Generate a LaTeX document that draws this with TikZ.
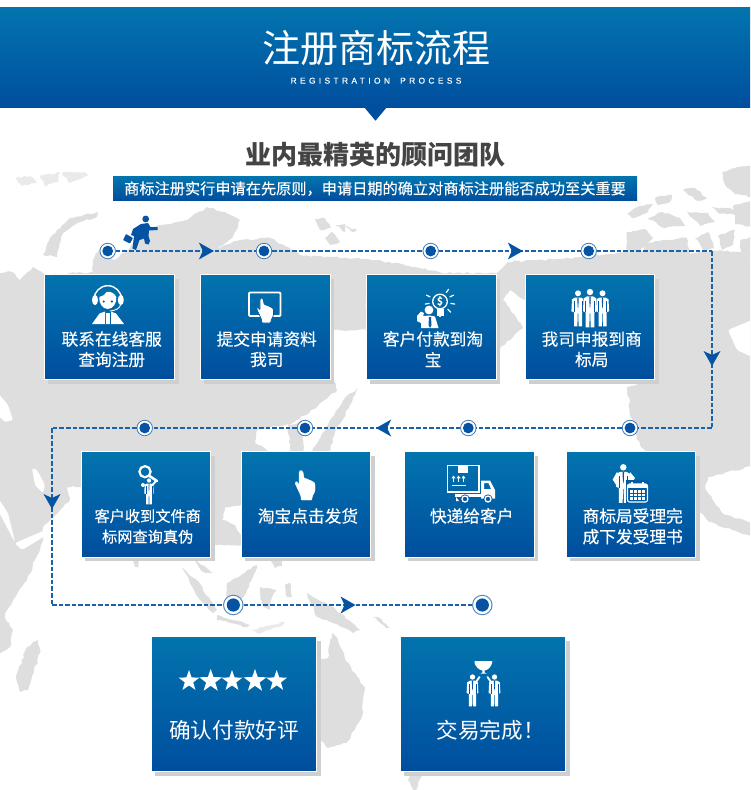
\documentclass[tikz,border=0pt]{standalone}
\usepackage{fontspec}
\usetikzlibrary{shapes.geometric,arrows.meta,decorations.markings,decorations.pathmorphing,calc}
\newfontfamily\cjk{Noto Sans CJK SC}
\newfontfamily\cjkm[FakeBold=0.25]{Noto Sans CJK SC}
\newfontfamily\subfont[LetterSpace=40,WordSpace=1.8,FakeBold=0.3]{Liberation Sans}
\definecolor{gtop}{HTML}{0274AE}
\definecolor{gbot}{HTML}{004E9E}
\definecolor{mapg}{HTML}{DEDEDE}
\definecolor{mapl}{HTML}{EAEAEA}
\definecolor{shd}{HTML}{CFCFCF}
\definecolor{flowc}{HTML}{1B62AC}
\definecolor{dotc}{HTML}{0653A3}
\definecolor{inkd}{HTML}{444444}
\newcommand{\fs}[1]{\fontsize{#1}{#1}\selectfont}
\tikzset{
  x=1pt,y=-1pt,
  land/.style={fill=mapg,decorate,decoration={random steps,segment length=3.5pt,amplitude=1pt}},
  isle/.style={fill=mapl,decorate,decoration={random steps,segment length=3pt,amplitude=1pt}},
  sea/.style={fill=white,rounded corners=1.5pt},
  stepbox/.style={rectangle,draw=white,line width=.7pt,top color=gtop,bottom color=gbot,inner sep=0pt,anchor=north west},
  boxlabel/.style={text=white,font=\cjkm\fs{16.7},align=center,inner sep=0pt},
  smalllabel/.style={text=white,font=\cjkm\fs{15.2},align=center,inner sep=0pt},
  biglabel/.style={text=white,font=\cjk\fs{21.6},align=center,inner sep=0pt},
  dotsmall/.style={circle,draw=flowc!85,line width=.8pt,fill=white,minimum size=15.5pt,inner sep=0pt,
    path picture={\fill[dotc] (path picture bounding box.center) circle (5.4pt);}},
  dotbig/.style={circle,draw=flowc!75,line width=1pt,fill=white,minimum size=19.5pt,inner sep=0pt,
    path picture={\fill[dotc] (path picture bounding box.center) circle (6.6pt);}},
  flow/.style={draw=flowc,line width=1.8pt,dash pattern=on 4.6pt off 2pt},
  tip/.style={decoration={markings,mark=at position #1 with {\arrow[line width=0pt,dotc,solid]{Stealth[length=15pt,width=17pt,inset=4pt]}}},postaction={decorate}},
  wf/.style={fill=white},
}
% suit man: head centre at (#1,#2), scale #3
\newcommand{\suitman}[3]{\begin{scope}[shift={(#1,#2)},scale=#3]
  \fill[white] (0,0) circle (3);
  \fill[white] (-3,4.2) -- (3,4.2) -- (6,6) -- (6.6,18) -- (4,19) -- (4,33) -- (.6,33) -- (.3,20) -- (-.3,20) -- (-.6,33) -- (-4,33) -- (-4,19) -- (-6.6,18) -- (-6,6) -- cycle;
  \fill[dotc] (-.7,4.2) -- (.7,4.2) -- (.4,13) -- (0,15) -- (-.4,13) -- cycle;
  \draw[dotc,line width=.5pt] (-4,8) -- (-4,19) (4,8) -- (4,19);
\end{scope}}
% pointing hand: top-left of a 20x30 frame at (#2,#3), scale #4
\newcommand{\pointhand}[4][]{\begin{scope}[shift={(#2,#3)},scale=#4]
  \filldraw[white,#1,rounded corners=1pt,line join=round] (4,2) -- (6,0) -- (8,2) -- (9,8.5) -- (12,8.5) -- (13,10) -- (15.5,10) -- (16.5,11.5) -- (19,12) -- (20,14) -- (20,21) -- (17,27) -- (17,30) -- (6,30) -- (6,26) -- (0,13) -- (1.5,11) -- (4,15) -- cycle;
\end{scope}}
\begin{document}
\begin{tikzpicture}
\pgfmathsetseed{7}
\useasboundingbox (0,0) rectangle (750,790);
\fill[white] (0,0) rectangle (750,790);
%% world map
\begin{scope}
\clip (0,0) rectangle (750,790);
\fill[land] (-6,273) -- (12,272) -- (20,280) -- (33,267) -- (45,275) -- (93,272) -- (93,260) -- (100,248) -- (113,260) -- (127,251) -- (150,227) -- (173,223) -- (190,218) -- (207,207) -- (225,212) -- (240,220) -- (233,237) -- (217,248) -- (240,240) -- (270,238) -- (300,255) -- (333,257) -- (375,260) -- (415,267) -- (442,273) -- (497,273) -- (508,262) -- (542,260) -- (582,257) -- (625,252) -- (660,252) -- (690,254) -- (720,250) -- (756,255) -- (756,465) -- (708,477) -- (705,487) -- (722,513) -- (756,525) -- (756,537) -- (722,527) -- (707,520) -- (640,445) -- (632,423) -- (627,387) -- (655,380) -- (655,340) -- (640,300) -- (525,300) -- (510,290) -- (503,300) -- (515,315) -- (523,328) -- (510,340) -- (497,350) -- (490,350) -- (490,300) -- (366,300) -- (366,330) -- (333,330) -- (333,377) -- (337,390) -- (317,407) -- (293,423) -- (257,430) -- (255,443) -- (267,450) -- (255,500) -- (241,505) -- (225,507) -- (222,520) -- (235,525) -- (241,535) -- (245,545) -- (205,545) -- (80,487) -- (67,487) -- (70,500) -- (60,510) -- (43,527) -- (43,533) -- (43,540) -- (27,580) -- (7,610) -- (5,618) -- (13,630) -- (10,647) -- (-6,658) -- cycle;
% seas cut from the land
\fill[sea] (-2,498) -- (8,513) -- (15,542) -- (12,537) -- (-2,510) -- cycle;
\fill[sea] (15,543) -- (43,531) -- (45,536) -- (22,550) -- cycle;
\fill[sea] (32,468) -- (37,470) -- (45,485) -- (43,493) -- (35,485) -- cycle;
\fill[sea] (-2,393) -- (8,405) -- (13,420) -- (5,422) -- (-2,415) -- cycle;
\fill[sea] (728,330) -- (752,320) -- (752,357) -- (737,350) -- cycle;
% Korea and Japan
\fill[land] (288,424) -- (303,424) -- (303,452) -- (290,452) -- cycle;
\fill[land] (312,452) -- (330,420) -- (345,398) -- (358,388) -- (352,402) -- (335,432) -- (330,452) -- cycle;
% Novaya Zemlya and northern islands
\fill[land] (98,212) -- (70,218) -- (50,238) -- (43,255) -- (57,257) -- (63,233) -- (80,222) -- (97,217) -- cycle;
\fill[isle] (15,178) -- (30,176) -- (37,183) -- (22,186) -- cycle;
\fill[isle] (40,176) -- (60,172) -- (58,182) -- (45,186) -- cycle;
\fill[isle] (62,173) -- (85,172) -- (88,176) -- (70,183) -- cycle;
\fill[land] (315,219) -- (325,218) -- (331,228) -- (320,230) -- cycle;
\fill[land] (335,225) -- (345,224) -- (345,232) -- cycle;
\fill[land] (345,226) -- (357,230) -- (352,232) -- cycle;
\fill[land] (325,238) -- (332,232) -- (340,242) -- (330,245) -- cycle;
% arctic Canada and Greenland
\fill[land] (722,172) -- (738,167) -- (756,166) -- (756,198) -- (735,194) -- (725,185) -- cycle;
\fill[land] (683,190) -- (695,188) -- (707,198) -- (698,201) -- cycle;
\fill[land] (655,198) -- (672,195) -- (670,202) -- (658,205) -- cycle;
\fill[land] (627,214) -- (640,206) -- (653,204) -- (648,212) -- (632,218) -- cycle;
\fill[land] (648,218) -- (662,212) -- (680,218) -- (685,226) -- (665,228) -- cycle;
\fill[land] (687,212) -- (708,213) -- (715,222) -- (700,226) -- cycle;
\fill[land] (712,207) -- (735,209) -- (737,214) -- (720,214) -- cycle;
\fill[land] (733,206) -- (756,200) -- (756,228) -- (735,224) -- cycle;
\fill[land] (627,232) -- (645,229) -- (653,238) -- (640,250) -- (627,252) -- cycle;
\fill[land] (645,243) -- (665,240) -- (687,238) -- (690,254) -- (645,254) -- cycle;
\fill[land] (695,238) -- (708,232) -- (714,248) -- (705,252) -- cycle;
\fill[land] (718,236) -- (735,230) -- (733,245) -- (722,250) -- cycle;
\fill[land] (740,240) -- (756,236) -- (756,258) -- (742,256) -- cycle;
% Madagascar
\fill[land] (38,640) -- (40,653) -- (28,690) -- (20,692) -- (16,677) -- (27,647) -- cycle;
% south-east Asia and Australia
\fill[land] (182,568) -- (197,580) -- (217,610) -- (213,613) -- (200,600) -- cycle;
\fill[land] (193,558) -- (213,573) -- (203,572) -- cycle;
\fill[land] (227,583) -- (257,565) -- (253,577) -- (240,603) -- (227,600) -- cycle;
\fill[land] (217,615) -- (250,625) -- (247,627) -- (217,620) -- cycle;
\fill[land] (260,587) -- (277,590) -- (272,597) -- (270,610) -- (262,605) -- cycle;
\fill[isle] (252,630) -- (285,622) -- (282,626) -- (258,634) -- cycle;
\fill[land] (285,585) -- (290,583) -- (292,597) -- (287,597) -- cycle;
\fill[land] (307,593) -- (333,607) -- (360,630) -- (353,633) -- (333,623) -- (317,617) -- cycle;
\fill[land] (267,557) -- (283,557) -- (282,566) -- (275,568) -- cycle;
\fill[land] (373,617) -- (378,617) -- (390,628) -- (386,628) -- cycle;
\fill[land] (133,558) -- (140,558) -- (139,567) -- (135,567) -- cycle;
\fill[land] (315,662) -- (328,658) -- (332,633) -- (338,640) -- (347,662) -- (365,688) -- (362,717) -- (347,743) -- (328,748) -- (318,737) -- (315,720) -- cycle;
\fill[land] (423,772) -- (415,792) -- (408,780) -- (410,772) -- cycle;
\end{scope}

%% header
\shade[top color=gtop,bottom color=gbot] (0,7.5) rectangle (750,107.7);
\fill[gbot] (364,107) -- (387,107) -- (375.5,120.7) -- cycle;
\node[text=white,font=\cjk\fs{38},inner sep=0pt] (title) at (376,48) {注册商标流程};
\node[text=white,font=\subfont\fs{8.4},inner sep=0pt] (subtitle) at (376,80.7) {REGISTRATION PROCESS};
\node[text=inkd,font=\cjk\bfseries\fs{26},inner sep=0pt] (heading) at (375,155) {业内最精英的顾问团队};
\node[rectangle,top color=gtop,bottom color=gbot,minimum width=524pt,minimum height=23.5pt,inner sep=0pt,anchor=north west] (banner) at (113,176.7) {};
\node[text=white,font=\cjkm\fs{15.2},inner sep=0pt] (bannertext) at (375,188.6) {商标注册实行申请在先原则，申请日期的确立对商标注册能否成功至关重要};

%% boxes: shadows first
\foreach \x/\y/\w/\h in {44.3/274/129.7/105,200/274/129.7/105,366/274/129.7/105,525/274/129/105,80.7/451/129.3/105.7,241/451/129/105.7,404.3/451/129.4/105.7,565.7/451/129.3/105.7,151.3/636.3/165/135,400/636.3/165.3/135}
  \fill[shd] (\x+4,\y+4.5) rectangle (\x+\w+4.5,\y+\h+4.5);
\node[stepbox,minimum width=129.7pt,minimum height=105pt] (b1) at (44.3,274) {};
\node[stepbox,minimum width=129.7pt,minimum height=105pt] (b2) at (200,274) {};
\node[stepbox,minimum width=129.7pt,minimum height=105pt] (b3) at (366,274) {};
\node[stepbox,minimum width=129pt,minimum height=105pt] (b4) at (525,274) {};
\node[stepbox,minimum width=129.3pt,minimum height=105.7pt] (b5) at (80.7,451) {};
\node[stepbox,minimum width=129pt,minimum height=105.7pt] (b6) at (241,451) {};
\node[stepbox,minimum width=129.4pt,minimum height=105.7pt] (b7) at (404.3,451) {};
\node[stepbox,minimum width=129.3pt,minimum height=105.7pt] (b8) at (565.7,451) {};
\node[stepbox,minimum width=165pt,minimum height=135pt] (b9) at (151.3,636.3) {};
\node[stepbox,minimum width=165.3pt,minimum height=135pt] (b10) at (400,636.3) {};

%% labels
\node[boxlabel] (l1a) at (111.7,339) {联系在线客服};
\node[boxlabel] (l1b) at (111.7,359.5) {查询注册};
\node[boxlabel] (l2a) at (266.7,339) {提交申请资料};
\node[boxlabel] (l2b) at (266.7,359.5) {我司};
\node[boxlabel] (l3a) at (433,339) {客户付款到淘};
\node[boxlabel] (l3b) at (433,359.5) {宝};
\node[boxlabel] (l4a) at (591.7,339) {我司申报到商};
\node[boxlabel] (l4b) at (591.7,359.5) {标局};
\node[smalllabel] (l5a) at (147.7,516) {客户收到文件商};
\node[smalllabel] (l5b) at (147.7,536.7) {标网查询真伪};
\node[boxlabel] (l6a) at (308,516) {淘宝点击发货};
\node[boxlabel] (l7a) at (471.7,516) {快递给客户};
\node[boxlabel] (l8a) at (632.7,516) {商标局受理完};
\node[boxlabel] (l8b) at (632.7,536.7) {成下发受理书};
\node[biglabel] (l9a) at (234,730) {确认付款好评};
\node[biglabel,anchor=west] (l10a) at (436.5,730) {交易完成！};

%% flow line dots
\node[dotsmall] (c1) at (107.7,251) {};
\node[dotsmall] (c2) at (264,251) {};
\node[dotsmall] (c3) at (430.7,251) {};
\node[dotsmall] (c4) at (588.7,251) {};
\coordinate (k1) at (712,251);
\coordinate (k2) at (712,428);
\node[dotsmall] (c5) at (630,428) {};
\node[dotsmall] (c6) at (468.3,428) {};
\node[dotsmall] (c7) at (305,428) {};
\node[dotsmall] (c8) at (144.7,428) {};
\coordinate (k3) at (52,428);
\coordinate (k4) at (52,605);
\node[dotbig] (c9) at (233.3,605) {};
\node[dotbig] (c10) at (482.3,605) {};
\draw[flow,tip=98pt] (c1) -- (c2);
\draw[flow] (c2) -- (c3);
\draw[flow,tip=84pt] (c3) -- (c4);
\draw[flow] (c4) -- (k1);
\draw[flow,tip=115pt] (k1) -- (k2);
\draw[flow] (k2) -- (c5);
\draw[flow] (c5) -- (c6);
\draw[flow,tip=84pt] (c6) -- (c7);
\draw[flow] (c7) -- (c8);
\draw[flow] (c8) -- (k3);
\draw[flow,tip=81pt] (k3) -- (k4);
\draw[flow] (k4) -- (c9);
\draw[flow,tip=112pt] (c9) -- (c10);

%% runner
\begin{scope}[dotc]
\fill (145.7,219) circle (3.4);
\fill (141,224) -- (148,223) -- (150.5,227) -- (157.7,227) -- (157.7,230) -- (149,230.5) -- (148.5,236) -- (150,241) -- (148.5,244.5) -- (145,243.5) -- (144,238.5) -- (139.5,240) -- (136,250) -- (132.5,248.5) -- (134,236) -- (131,235) -- (133,229) -- cycle;
\fill[rounded corners=.6pt] (126,234) -- (133,238) -- (130,243.5) -- (123,240) -- cycle;
\end{scope}

%% icon 1: agent
\draw[white,line width=1.4pt] (94,299.5) arc (180:360:13.8);
\fill[wf] (95,300) ellipse (3 and 5.2);
\fill[wf] (120.8,300) ellipse (3 and 5.2);
\fill[wf] (99.3,297) .. controls (102.5,296.5) and (105.5,294.5) .. (106.5,292) .. controls (110,291) and (114.5,293) .. (116.3,297) .. controls (117,303) and (113,309) .. (107.8,309) .. controls (102.5,309) and (98.6,303) .. (99.3,297) -- cycle;
\fill[dotc] (103.7,301.5) circle (1.2) (111.9,301.5) circle (1.2);
\draw[white,line width=.9pt] (120.8,304) .. controls (120,309) and (115,310.5) .. (110,311);
\fill[wf] (92,324) -- (99.5,313.5) -- (105,311.5) -- (105,324) -- cycle;
\fill[wf] (124,324) -- (116,313.5) -- (111,311.5) -- (111,324) -- cycle;
\fill[wf] (106.2,313) -- (109.8,313) -- (110,324) -- (106,324) -- cycle;
%% icon 2: tablet
\draw[white,line width=1.9pt,rounded corners=1pt] (249,292.5) rectangle (280.5,316);
\pointhand[draw=dotc,line width=.7pt]{256.5}{297.5}{.85}
%% icon 3: idea
\draw[white,line width=1.3pt] (440,301.5) circle (7.3);
\node[text=white,font=\cjk\bfseries\fs{10.5},inner sep=0pt] (dollar) at (440,301.5) {\$};
\fill[wf] (436.5,309) rectangle (443.5,315.5);
\foreach \a in {-25,10,45,90,135,170,205,-55}
  \draw[white,line width=1.2pt,line cap=round] ($(440,301.5)+(\a:11)$) -- ($(440,301.5)+(\a:15)$);
\fill[gtop!60!gbot] (429,310) circle (5.6);
\fill[wf] (429,310) circle (4.4);
\fill[wf] (417,316) -- (421,311.5) -- (424,313) -- (423,316) -- (430,315.5) -- (435,316.5) -- (438.5,328) -- (421,328) -- (421,323) -- (417,321) -- cycle;
\fill[gtop!45!gbot] (429,317) -- (431,317) -- (431.5,325) -- (430,328) -- (428.5,325) -- cycle;
%% icon 4: three men
\suitman{578}{293.3}{1}
\suitman{602.5}{293.3}{1}
\draw[gtop!55!gbot,line width=1pt] (583.2,299) -- (583.2,327) (596.8,299) -- (596.8,327);
\suitman{590}{292}{1.07}
%% icon 5: magnifier man
\draw[white,line width=2.2pt] (145,471.7) circle (5.6);
\draw[white,line width=2.6pt,line cap=round] (149.5,476) -- (157,481);
\suitman{149}{480.5}{.72}
\draw[white,line width=2pt,line cap=round] (152.5,485) -- (156,481);
\fill[wf] (143,485) circle (2);
%% icon 6: hand
\pointhand{295}{470}{1}
%% icon 7: truck
\draw[white,line width=1.5pt] (447.5,465.5) rectangle (479,492);
\fill[wf] (458,465) rectangle (468,472.5);
\foreach \xa in {453.5,458.5,463.5}{
  \draw[white,line width=1.1pt] (\xa,482) -- (\xa,478);
  \fill[wf] (\xa-2,478.3) -- (\xa+2,478.3) -- (\xa,475.5) -- cycle;
}
\draw[white,line width=1.4pt] (451.5,485.5) -- (466,485.5);
\fill[wf,even odd rule] (481,480.5) -- (490,480.5) -- (495,490) -- (495,498.5) -- (481,498.5) -- cycle (484,483) -- (484,489) -- (491,489) -- (488.5,483) -- cycle;
\fill[wf] (455,493.5) rectangle (481,497);
\fill[wf] (456,497) -- (459,501) -- (456,501) -- cycle;
\foreach \xa in {465,488}{
  \fill[gtop!35!gbot] (\xa,499) circle (4.6);
  \draw[white,line width=1.3pt] (\xa,499) circle (3);
}
%% icon 8: manager and calendar
\fill[wf] (617,472) -- (612.7,479.5) -- (618,488) -- (619,484) -- (616.5,479.5) -- (619,475) -- cycle;
\fill[wf] (630,472) -- (635,478) -- (631,484) -- (628,482) -- cycle;
\suitman{623.3}{467.3}{1.08}
\fill[gtop!35!gbot] (625.5,480) rectangle (649,503.5);
\draw[white,line width=1.1pt,rounded corners=2pt] (627.5,484) rectangle (647.5,502);
\fill[wf] (628,484) rectangle (647,488);
\draw[white,line width=1.6pt] (632,482) -- (632,486) (643,482) -- (643,486);
\foreach \yy in {491.5,495,498.5}\foreach \xx in {631.5,635.5,639.5,643.5}
  \fill[wf] (\xx-1.4,\yy-1.2) rectangle (\xx+1.4,\yy+1.2);

%% five stars
\foreach \sx/\sr [count=\si] in {189/11,210.7/12,232/11,255/12,276.7/11}
  \node[star,star points=5,star point ratio=2.5,fill=white,minimum size=2*\sr*1pt,inner sep=0pt] (st\si) at (\sx,681) {};

%% trophy
\fill[wf] (474.5,661) -- (492,661) -- (492,663) .. controls (491,667) and (488,670) .. (484.6,670.5) -- (484.6,672.5) -- (486.5,673.5) -- (480.5,673.5) -- (482.4,672.5) -- (482.4,670.5) .. controls (479,670) and (476,667) .. (474.5,663) -- cycle;
\suitman{472.5}{677}{.89}
\suitman{494.5}{677}{.89}
\draw[white,line width=1.9pt,line cap=round] (476,682) -- (479.5,677);
\draw[white,line width=1.9pt,line cap=round] (491,682) -- (487.5,677);
\end{tikzpicture}
\end{document}
